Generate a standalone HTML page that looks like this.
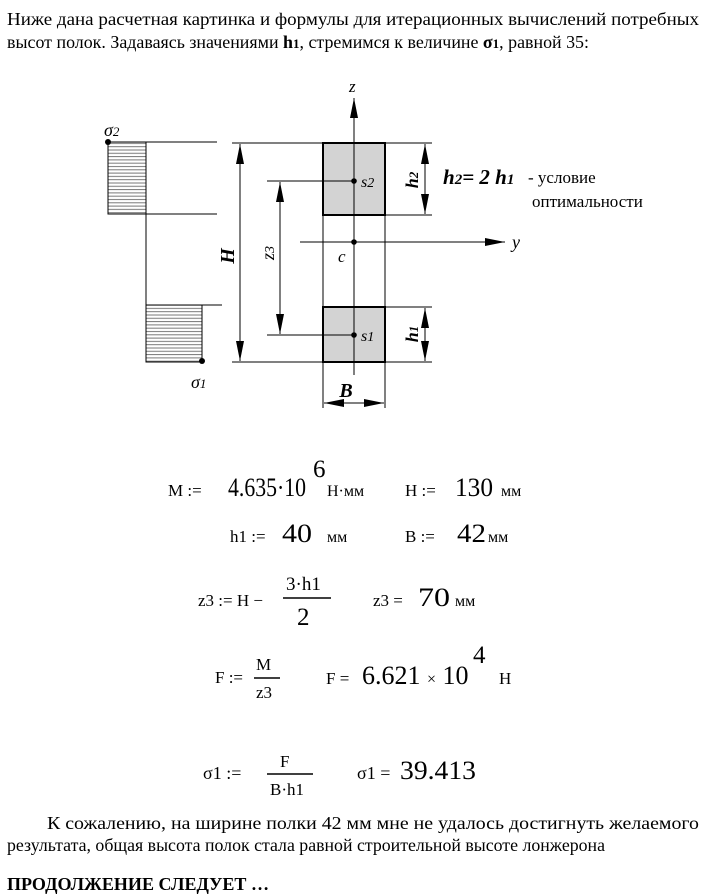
<!DOCTYPE html>
<html><head><meta charset="utf-8"><style>
html,body{margin:0;padding:0;background:#fff;}
svg{display:block;}
text{font-family:"Liberation Serif","DejaVu Serif",serif;fill:#000;}
</style></head><body>
<svg width="713" height="896" viewBox="0 0 713 896" xmlns="http://www.w3.org/2000/svg">
<defs>
<pattern id="hp" width="6" height="3.3" patternUnits="userSpaceOnUse">
<line x1="0" y1="1.5" x2="6" y2="1.5" stroke="#777" stroke-width="1"/>
</pattern>
<marker id="arL" viewBox="0 0 20 8" refX="20" refY="4" markerWidth="20" markerHeight="8" markerUnits="userSpaceOnUse" orient="auto-start-reverse">
<path d="M0,0 L20,4 L0,8 Z" fill="#000"/>
</marker>
</defs>

<text x="7" y="25" font-size="18" textLength="692" lengthAdjust="spacingAndGlyphs">Ниже дана расчетная картинка и формулы для итерационных вычислений потребных</text>
<text x="7" y="48" font-size="18" textLength="582" lengthAdjust="spacingAndGlyphs">высот полок. Задаваясь значениями <tspan font-weight="bold">h</tspan><tspan font-weight="bold" font-size="13">1</tspan>, стремимся к величине <tspan font-weight="bold">σ</tspan><tspan font-weight="bold" font-size="13">1</tspan>, равной 35:</text>

<rect x="108" y="142" width="38" height="72" fill="url(#hp)" stroke="#000" stroke-width="1"/>
<rect x="146" y="305" width="56" height="57" fill="url(#hp)" stroke="#000" stroke-width="1"/>
<line x1="146" y1="142" x2="217" y2="142" stroke="#000"/>
<line x1="146" y1="214" x2="217" y2="214" stroke="#000"/>
<line x1="146" y1="214" x2="146" y2="305" stroke="#000"/>
<line x1="202" y1="305" x2="222" y2="305" stroke="#000"/>
<circle cx="108" cy="142" r="3" fill="#000"/>
<circle cx="202" cy="361" r="3" fill="#000"/>
<text x="104" y="136" font-size="18" font-style="italic">σ<tspan font-size="13">2</tspan></text>
<text x="191" y="388" font-size="18" font-style="italic">σ<tspan font-size="13">1</tspan></text>

<rect x="323" y="143" width="62" height="72" fill="#d3d3d3" stroke="#000" stroke-width="2"/>
<rect x="323" y="307" width="62" height="55" fill="#d3d3d3" stroke="#000" stroke-width="2"/>
<line x1="232" y1="143" x2="432" y2="143" stroke="#000"/>
<line x1="232" y1="362" x2="432" y2="362" stroke="#000"/>
<line x1="385" y1="215" x2="432" y2="215" stroke="#000"/>
<line x1="385" y1="307" x2="432" y2="307" stroke="#000"/>
<line x1="323" y1="215" x2="323" y2="408" stroke="#000"/>
<line x1="385" y1="215" x2="385" y2="408" stroke="#000"/>
<line x1="354" y1="375" x2="354" y2="98" stroke="#000" marker-end="url(#arL)"/>
<text x="349" y="92" font-size="17" font-style="italic">z</text>
<line x1="300" y1="242" x2="505" y2="242" stroke="#000" marker-end="url(#arL)"/>
<text x="512" y="248" font-size="18" font-style="italic">y</text>
<circle cx="354" cy="242" r="2.8" fill="#000"/>
<text x="338" y="262" font-size="17" font-style="italic">c</text>
<line x1="267" y1="181" x2="354" y2="181" stroke="#000"/>
<line x1="267" y1="335" x2="354" y2="335" stroke="#000"/>
<circle cx="354" cy="181" r="2.8" fill="#000"/>
<circle cx="354" cy="335" r="2.8" fill="#000"/>
<text x="361" y="187" font-size="16" font-style="italic">s<tspan font-size="14">2</tspan></text>
<text x="361" y="341" font-size="16" font-style="italic">s<tspan font-size="14">1</tspan></text>
<line x1="240" y1="144" x2="240" y2="361" stroke="#000" marker-start="url(#arL)" marker-end="url(#arL)"/>
<text transform="translate(234,256) rotate(-90)" font-size="20" font-style="italic" font-weight="bold" text-anchor="middle">H</text>
<line x1="280" y1="182" x2="280" y2="334" stroke="#000" marker-start="url(#arL)" marker-end="url(#arL)"/>
<text transform="translate(274,253) rotate(-90)" font-size="18" font-style="italic" text-anchor="middle">z<tspan font-size="14">3</tspan></text>
<line x1="425" y1="144" x2="425" y2="214" stroke="#000" marker-start="url(#arL)" marker-end="url(#arL)"/>
<text transform="translate(418,180) rotate(-90)" font-size="18" font-style="italic" font-weight="bold" text-anchor="middle">h<tspan font-size="13">2</tspan></text>
<line x1="425" y1="308" x2="425" y2="361" stroke="#000" marker-start="url(#arL)" marker-end="url(#arL)"/>
<text transform="translate(418,334) rotate(-90)" font-size="18" font-style="italic" font-weight="bold" text-anchor="middle">h<tspan font-size="13">1</tspan></text>
<line x1="324" y1="403" x2="384" y2="403" stroke="#000" marker-start="url(#arL)" marker-end="url(#arL)"/>
<text x="346" y="397" font-size="20" font-style="italic" font-weight="bold" text-anchor="middle">B</text>
<text x="443" y="184" font-size="21" font-style="italic" font-weight="bold">h<tspan font-size="15">2</tspan>= 2 h<tspan font-size="15">1</tspan></text>
<text x="528" y="183" font-size="17">- условие</text>
<text x="532" y="207" font-size="17">оптимальности</text>

<g font-size="17">
<text x="168" y="496">M :=</text>
<text x="228" y="496" font-size="26" textLength="78" lengthAdjust="spacingAndGlyphs">4.635·10</text>
<text x="313" y="477" font-size="25">6</text>
<text x="327" y="496" font-size="16">Н·мм</text>
<text x="405" y="496">H :=</text>
<text x="455" y="496" font-size="26" textLength="38" lengthAdjust="spacingAndGlyphs">130</text>
<text x="501" y="496" font-size="16">мм</text>

<text x="230" y="542">h1 :=</text>
<text x="282" y="542" font-size="26" textLength="30" lengthAdjust="spacingAndGlyphs">40</text>
<text x="327" y="542" font-size="16">мм</text>
<text x="405" y="542">B :=</text>
<text x="457" y="542" font-size="26" textLength="29" lengthAdjust="spacingAndGlyphs">42</text>
<text x="488" y="542" font-size="16">мм</text>

<text x="198" y="606">z3 := H −</text>
<text x="286" y="590" font-size="19">3·h1</text>
<line x1="283" y1="598" x2="331" y2="598" stroke="#000" stroke-width="1.5"/>
<text x="297" y="625" font-size="25">2</text>
<text x="373" y="606">z3 =</text>
<text x="418" y="606" font-size="26" textLength="32" lengthAdjust="spacingAndGlyphs">70</text>
<text x="455" y="606" font-size="16">мм</text>

<text x="215" y="683">F :=</text>
<text x="256" y="670">M</text>
<line x1="254" y1="678" x2="280" y2="678" stroke="#000" stroke-width="1.5"/>
<text x="256" y="698">z3</text>
<text x="326" y="684">F =</text>
<text x="362" y="684" font-size="26">6.621 <tspan font-size="16">×</tspan> 10</text>
<text x="473" y="663" font-size="25">4</text>
<text x="499" y="684">Н</text>

<text x="203" y="779" font-size="18">σ1 :=</text>
<text x="280" y="767">F</text>
<line x1="267" y1="774" x2="313" y2="774" stroke="#000" stroke-width="1.5"/>
<text x="270" y="795">B·h1</text>
<text x="357" y="779" font-size="18">σ1 =</text>
<text x="400" y="779" font-size="26" textLength="76" lengthAdjust="spacingAndGlyphs">39.413</text>
</g>

<text x="47" y="829" font-size="18" textLength="652" lengthAdjust="spacingAndGlyphs">К сожалению, на ширине полки 42 мм мне не удалось достигнуть желаемого</text>
<text x="7" y="851" font-size="18" textLength="598" lengthAdjust="spacingAndGlyphs">результата, общая высота полок стала равной строительной высоте лонжерона</text>
<text x="7" y="890" font-size="18" font-weight="bold" textLength="262" lengthAdjust="spacingAndGlyphs">ПРОДОЛЖЕНИЕ СЛЕДУЕТ …</text>
</svg>
</body></html>
